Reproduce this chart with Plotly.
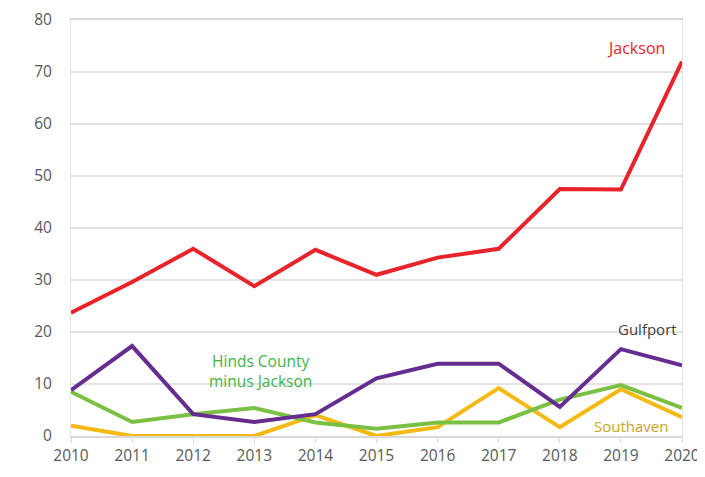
import plotly.graph_objects as go

years = list(range(2010, 2021))
jackson = [23.7, 29.6, 36.0, 28.8, 35.8, 31.0, 34.3, 36.0, 47.5, 47.4, 72.0]
gulfport = [8.8, 17.3, 4.2, 2.7, 4.2, 11.1, 13.9, 13.9, 5.6, 16.7, 13.6]
hinds = [8.5, 2.7, 4.2, 5.4, 2.6, 1.4, 2.6, 2.6, 7.0, 9.8, 5.4]
southaven = [2.0, 0.0, 0.0, 0.0, 4.0, 0.0, 1.7, 9.2, 1.7, 9.0, 3.6]

series = [
    ("Southaven", southaven, "#F5B913"),
    ("Hinds County minus Jackson", hinds, "#7AC143"),
    ("Gulfport", gulfport, "#662D91"),
    ("Jackson", jackson, "#E8232A"),
]

fig = go.Figure()
for name, vals, col in series:
    fig.add_trace(go.Scatter(x=years, y=vals, mode="lines", name=name,
                             line=dict(color=col, width=4), showlegend=False))

# direct labels
fig.add_annotation(x=2019.25, y=74.6, text="Jackson", showarrow=False,
                   font=dict(color="#E8232A", size=16))
fig.add_annotation(x=2013.1, y=12.5, text="Hinds County<br>minus Jackson", showarrow=False,
                   font=dict(color="#3DB54A", size=15.5))
fig.add_annotation(x=2019.43, y=20.6, text="Gulfport", showarrow=False,
                   font=dict(color="#404040", size=15))
fig.add_annotation(x=2019.17, y=1.9, text="Southaven", showarrow=False,
                   font=dict(color="#C9A227", size=15))

# page body has an 8px margin, so the figure is slightly smaller than the window
fig.update_layout(
    width=697, height=469,
    margin=dict(l=63, r=23, t=12, b=41),
    plot_bgcolor="white", paper_bgcolor="white",
    font=dict(family="Open Sans", color="#595959", size=15),
)
fig.update_xaxes(range=[2010, 2020], tickmode="array", tickvals=years,
                 showgrid=False, showline=True, linecolor="#D9D9D9", linewidth=1.5,
                 mirror=True, ticks="outside", ticklen=5, tickcolor="#D9D9D9",
                 automargin=False, tickfont=dict(size=15.5, color="#595959"))
fig.update_yaxes(range=[0, 80], dtick=10, showgrid=True, gridcolor="#E3E3E3",
                 gridwidth=1.5, showline=True, linecolor="#E3E3E3", mirror=True,
                 zeroline=False, ticks="", ticklabelstandoff=15, automargin=False,
                 tickfont=dict(size=15.5, color="#595959"))

fig.write_html("out.html")
